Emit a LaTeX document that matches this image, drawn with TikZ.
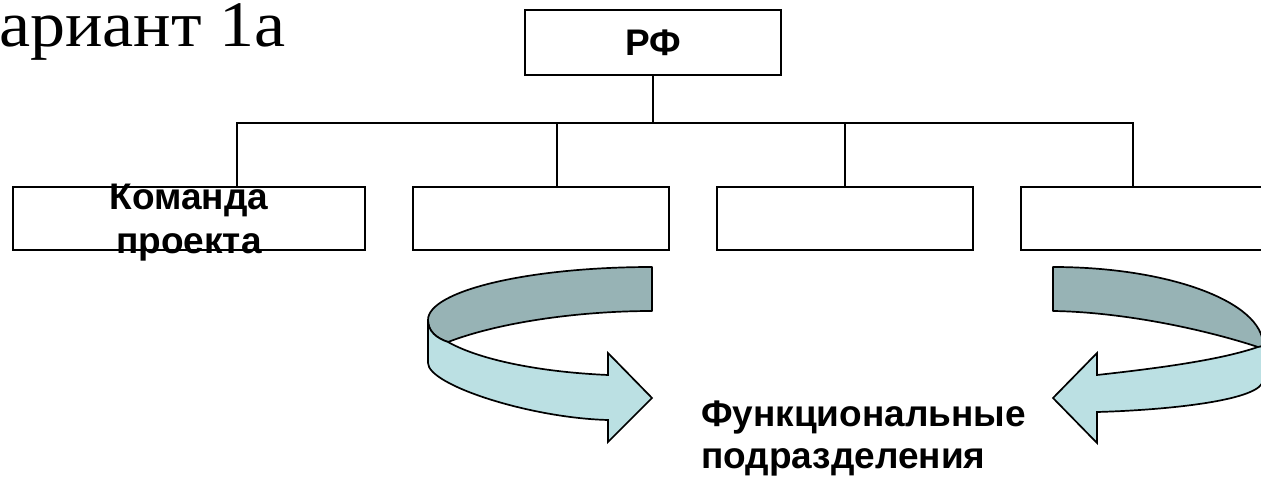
\documentclass[tikz,border=0pt]{standalone}
\usepackage{fontspec}
\setmainfont{Liberation Serif}[FakeStretch=1.077]
\newfontfamily\sansb{Liberation Sans}
\definecolor{darkteal}{RGB}{151,179,181}
\definecolor{lightteal}{RGB}{187,224,227}
\begin{document}
\begin{tikzpicture}[x=1pt,y=-1pt,
  box/.style={draw,line width=2pt,rectangle,inner sep=0pt,minimum width=256pt,minimum height=64pt},
  conn/.style={line width=2pt},
  lbl/.style={font=\sansb\bfseries\fontsize{37}{44}\selectfont,inner sep=0pt},
  darkband/.style={fill=darkteal,draw=black,line width=1.7pt,line join=round},
  lightband/.style={fill=lightteal,draw=black,line width=1.7pt,line join=miter}]
\clip (0,0) rectangle (1261,478);
% title
\node[font=\fontsize{65}{72}\selectfont,anchor=base west,inner sep=0pt] (title) at (-1,47) {ариант 1а};
% boxes
\node[box,minimum height=65pt,lbl] (rf) at (653,42.5) {РФ};
\node[box,minimum width=352pt,minimum height=63pt] (b1) at (189,218.5) {};
\node[box,minimum height=63pt] (b2) at (541,218.5) {};
\node[box,minimum height=63pt] (b3) at (845,218.5) {};
\node[box,minimum height=63pt] (b4) at (1149,218.5) {};
% connectors
\coordinate (j1) at (237,123);
\coordinate (j2) at (557,123);
\coordinate (j3) at (845,123);
\coordinate (j4) at (1133,123);
\draw[conn] (rf.south) -- (rf.south |- j1);
\draw[conn] (j1 |- b1.north) -- (j1) -- (j4) -- (j4 |- b4.north);
\draw[conn] (j2) -- (j2 |- b2.north);
\draw[conn] (j3) -- (j3 |- b3.north);
% labels
\node[lbl,anchor=base] (t1) at (189,210) {\vtop{\baselineskip=44pt\halign{\hfil#\hfil\cr Команда\cr проекта\cr}}};
\node[lbl,anchor=base west] (t2) at (701,426) {\vtop{\baselineskip=42pt\halign{#\hfil\cr Функциональные\cr подразделения\cr}}};
% left curved arrow
\draw[darkband] (652,267) .. controls (528,267) and (428,291) .. (428,320)
  .. controls (428,331) and (436,338) .. (448,342)
  .. controls (500,322) and (580,311) .. (652,311) -- cycle;
\draw[lightband] (428,320) -- (428,363) .. controls (428,385) and (530,418) .. (608,420)
  -- (608,442) -- (652,398) -- (608,353) -- (608,375)
  .. controls (540,372) and (480,360) .. (448,342)
  .. controls (436,338) and (428,331) .. (428,320) -- cycle;
% right curved arrow
\draw[darkband] (1053,267) .. controls (1169,267) and (1263,302) .. (1263,345)
  .. controls (1263,346) and (1261,347) .. (1258,347)
  .. controls (1200,328) and (1120,312) .. (1053,311) -- cycle;
\draw[lightband] (1258,347) .. controls (1261,347) and (1263,346) .. (1263,345)
  -- (1263,380) .. controls (1263,400) and (1170,410) .. (1097,412)
  -- (1097,443) -- (1053,398) -- (1097,353) -- (1097,375)
  .. controls (1160,368) and (1220,360) .. (1258,347) -- cycle;
\end{tikzpicture}
\end{document}
